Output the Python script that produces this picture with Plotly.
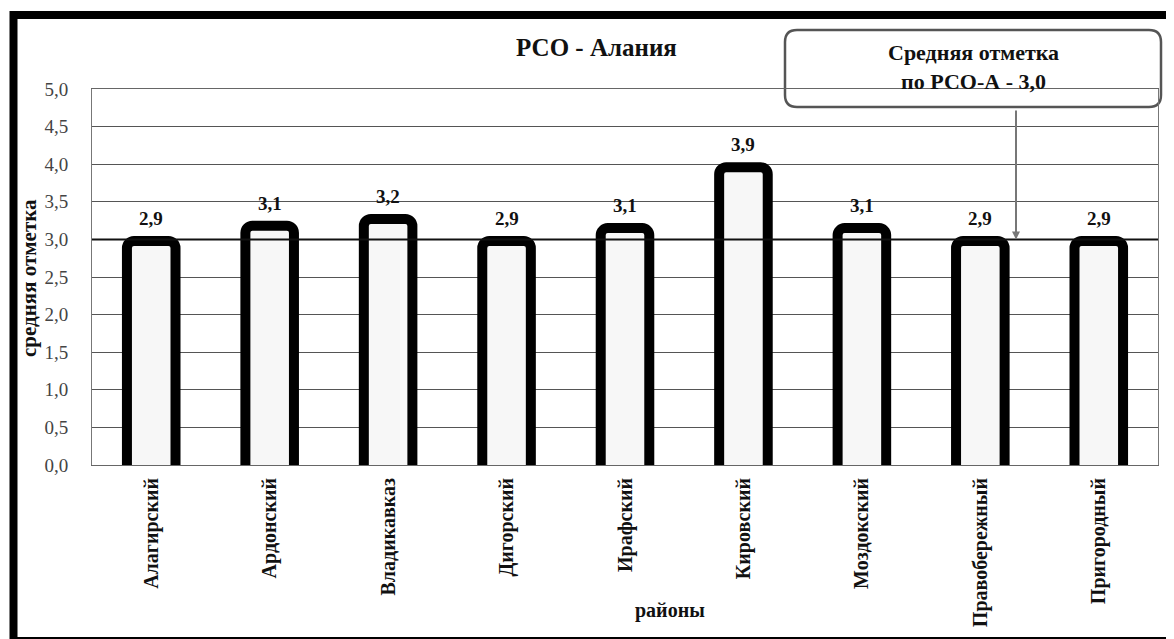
import plotly.graph_objects as go

categories = ["Алагирский", "Ардонский", "Владикавказ", "Дигорский", "Ирафский",
              "Кировский", "Моздокский", "Правобережный", "Пригородный"]
bar_heights = [2.98, 3.18, 3.27, 2.98, 3.15, 3.96, 3.15, 2.98, 2.98]
value_labels = ["2,9", "3,1", "3,2", "2,9", "3,1", "3,9", "3,1", "2,9", "2,9"]
region_average = 3.0
average_text = "Средняя отметка<br>по РСО-А - 3,0"
y_ticks = [0, 0.5, 1, 1.5, 2, 2.5, 3, 3.5, 4, 4.5, 5]

# page offset (body margin) = 8px
OFF = 8
W, H = 1174 - OFF, 639 - OFF
PL, PR, PT, PB = 92, 1158, 89, 465          # plot area in page pixels
L, R, T, B = PL - OFF, W - (PR - OFF), PT - OFF, H - (PB - OFF)
PW, PH = PR - PL, PB - PT

def px(x):
    return (x - PL) / PW

def py(y):
    return (PB - y) / PH

SERIF = "Liberation Serif"
BASE = -0.15   # start bars below the axis so the bottom outline is clipped

fig = go.Figure()
fig.add_trace(go.Bar(
    x=categories, y=[h - BASE for h in bar_heights], base=BASE,
    width=0.41,
    marker=dict(color="#f7f7f7", line=dict(color="black", width=10), cornerradius=7),
    hoverinfo="skip",
))

annotations = []
for c, h, lab in zip(categories, bar_heights, value_labels):
    annotations.append(dict(x=c, y=h, xref="x", yref="y", text=lab, showarrow=False,
                            xanchor="center", yanchor="bottom", yshift=10,
                            font=dict(family=SERIF, size=19, color="#111", weight="bold")))

def paper_text(x, y, text, size=16, angle=0):
    return dict(x=px(x), y=py(y), xref="paper", yref="paper", text=text,
                showarrow=False, textangle=angle, xanchor="center", yanchor="middle",
                align="center",
                font=dict(family=SERIF, size=size, color="#111", weight="bold"))

annotations.append(paper_text(596, 47, "РСО - Алания", size=25))
annotations.append(paper_text(670, 610, "районы", size=20))
annotations.append(paper_text(29, 278, "средняя отметка", size=21, angle=-90))
annotations.append(paper_text(973, 67, average_text, size=22))
# callout arrow
annotations.append(dict(x=px(1016), y=region_average, xref="paper", yref="y", text="",
                        showarrow=True, arrowhead=2, arrowsize=0.8, arrowwidth=2,
                        arrowcolor="#777", ax=0, ay=-(PB - region_average * PH / 5 - 109),
                        axref="pixel", ayref="pixel", standoff=0))

# rounded box for callout
x0, x1, y0, y1, r = px(785), px(1161), py(30), py(107), 12
rx, ry = r / PW, r / PH
path = (f"M {x0+rx},{y0} L {x1-rx},{y0} Q {x1},{y0} {x1},{y0-ry} "
        f"L {x1},{y1+ry} Q {x1},{y1} {x1-rx},{y1} "
        f"L {x0+rx},{y1} Q {x0},{y1} {x0},{y1+ry} "
        f"L {x0},{y0-ry} Q {x0},{y0} {x0+rx},{y0} Z")

shapes = [
    dict(type="path", path=path, xref="paper", yref="paper",
         line=dict(color="#555", width=2.5), fillcolor="white", layer="below"),
    dict(type="line", xref="paper", yref="y", x0=0, x1=1, y0=region_average, y1=region_average,
         line=dict(color="#111", width=2), layer="above"),
    # outer black frame
    dict(type="rect", xref="paper", yref="paper", x0=px(13.5), x1=px(1190), y0=py(641), y1=py(15),
         line=dict(color="black", width=8), layer="above"),
]

fig.update_layout(
    width=W, height=H,
    margin=dict(l=L, r=R, t=T, b=B, autoexpand=False),
    paper_bgcolor="white", plot_bgcolor="white",
    showlegend=False,
    separators=", ",
    bargap=0.59,
    annotations=annotations,
    shapes=shapes,
    xaxis=dict(
        tickangle=-90,
        tickfont=dict(family=SERIF, size=20, color="#111", weight="bold"),
        showline=True, linecolor="#666", linewidth=1,
        showgrid=False, ticks="", ticklabelstandoff=4,
        mirror=True,
    ),
    yaxis=dict(
        range=[0, 5], tickvals=y_ticks, tickformat=".1f",
        tickfont=dict(family=SERIF, size=19, color="#444"),
        showgrid=True, gridcolor="#555", gridwidth=1,
        showline=True, linecolor="#777", linewidth=1, mirror=True,
        zeroline=False, ticks="", ticklabelstandoff=19,
    ),
)

fig.write_html("out.html")
